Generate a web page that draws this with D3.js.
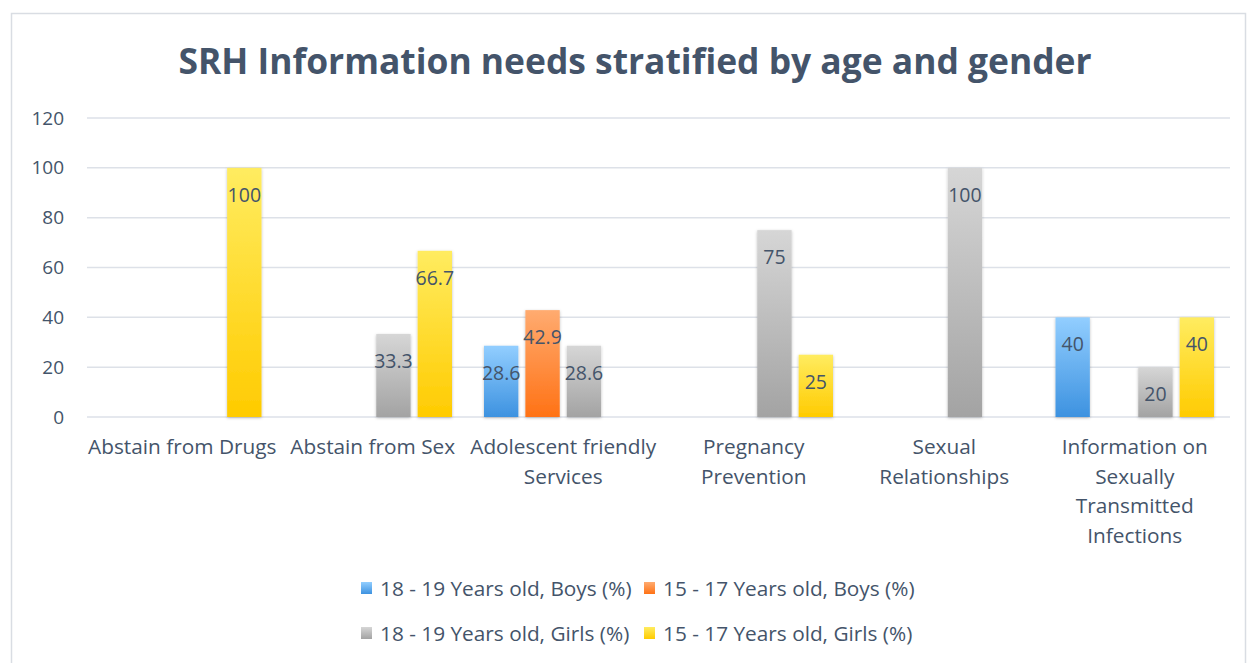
<!DOCTYPE html>
<html>
<head>
<meta charset="utf-8">
<script src="https://cdn.jsdelivr.net/npm/d3@7"></script>
<style>
  body { margin: 0; background: #fff; }
  svg { font-family: "Open Sans", "Noto Sans", sans-serif; }
</style>
</head>
<body>
<svg width="1248" height="663"></svg>
<script>
// Chart data
const categories = [
  ["Abstain from Drugs"],
  ["Abstain from Sex"],
  ["Adolescent friendly", "Services"],
  ["Pregnancy", "Prevention"],
  ["Sexual", "Relationships"],
  ["Information on", "Sexually", "Transmitted", "Infections"]
];
const seriesNames = [
  "18 - 19 Years old, Boys (%)",
  "15 - 17 Years old, Boys (%)",
  "18 - 19 Years old, Girls (%)",
  "15 - 17 Years old, Girls (%)"
];
const boys1819 = [null, null, 28.6, null, null, 40];
const boys1517 = [null, null, 42.9, null, null, null];
const girls1819 = [null, 33.3, 28.6, 75, 100, 20];
const girls1517 = [100, 66.7, null, 25, null, 40];
const yTicks = [0, 20, 40, 60, 80, 100, 120];

const values = [boys1819, boys1517, girls1819, girls1517];
const gradStops = [
  ["#92ceff", "#3d92e0"],
  ["#ffab70", "#ff7215"],
  ["#d6d6d6", "#a3a3a3"],
  ["#ffec60", "#ffcb00"]
];

const textColor = "#44546a";
const margin = {top: 118, left: 87, right: 18, bottom: 246};
const W = 1248, H = 663;
const width = W - margin.left - margin.right;
const height = H - margin.top - margin.bottom;

const svg = d3.select("svg");

// gradients and shadow
const defs = svg.append("defs");
gradStops.forEach((s, i) => {
  const g = defs.append("linearGradient")
    .attr("id", "grad" + i)
    .attr("x1", 0).attr("y1", 0).attr("x2", 0).attr("y2", 1);
  g.append("stop").attr("offset", "0%").attr("stop-color", s[0]);
  g.append("stop").attr("offset", "100%").attr("stop-color", s[1]);
});
const f = defs.append("filter").attr("id", "shadow")
  .attr("x", "-20%").attr("y", "-5%").attr("width", "140%").attr("height", "115%");
f.append("feDropShadow").attr("dx", 0).attr("dy", 1).attr("stdDeviation", 1.6)
  .attr("flood-color", "#000").attr("flood-opacity", 0.25);

// outer border
svg.append("rect")
  .attr("x", 11.5).attr("y", 13.5)
  .attr("width", 1234).attr("height", 660)
  .attr("fill", "none").attr("stroke", "#d9dde3").attr("stroke-width", 1.5);

// title
svg.append("text")
  .attr("x", 635).attr("y", 74)
  .attr("text-anchor", "middle")
  .attr("font-size", "35.4px").attr("font-weight", "bold")
  .attr("fill", textColor)
  .text("SRH Information needs stratified by age and gender");

const g = svg.append("g").attr("transform", `translate(${margin.left},${margin.top})`);

const y = d3.scaleLinear().domain([0, 120]).range([height, 0]);
const x = d3.scaleBand().domain(d3.range(categories.length)).range([0, width]).paddingInner(0).paddingOuter(0);
const xSub = d3.scaleBand().domain(d3.range(4)).range([16, x.bandwidth() - 16]).paddingInner(0.17);

// gridlines
g.selectAll(".grid").data(yTicks).enter().append("line")
  .attr("x1", 0).attr("x2", width)
  .attr("y1", d => y(d)).attr("y2", d => y(d))
  .attr("stroke", "#dde1e8").attr("stroke-width", 1.5);

// y axis labels
const yAxis = g.append("g")
  .call(d3.axisLeft(y).tickValues(yTicks).tickSize(0).tickPadding(23));
yAxis.select(".domain").remove();
yAxis.selectAll("text")
  .attr("font-size", "19px").attr("fill", textColor)
  .attr("font-family", "'Open Sans', sans-serif");

// bars
values.forEach((series, si) => {
  const data = series.map((v, ci) => ({v, ci})).filter(d => d.v !== null);
  g.selectAll(".bar" + si).data(data).enter().append("rect")
    .attr("x", d => x(d.ci) + xSub(si))
    .attr("y", d => y(d.v))
    .attr("width", xSub.bandwidth())
    .attr("height", d => height - y(d.v))
    .attr("fill", `url(#grad${si})`)
    .attr("filter", "url(#shadow)");
  g.selectAll(".label" + si).data(data).enter().append("text")
    .attr("x", d => x(d.ci) + xSub(si) + xSub.bandwidth() / 2)
    .attr("y", d => y(d.v) + 34)
    .attr("text-anchor", "middle")
    .attr("font-size", "19.5px").attr("fill", textColor)
    .text(d => d.v);
});

// category labels
categories.forEach((lines, ci) => {
  const t = g.append("text")
    .attr("x", x(ci) + x.bandwidth() / 2)
    .attr("y", height + 37)
    .attr("text-anchor", "middle")
    .attr("font-size", "20.8px").attr("fill", textColor);
  lines.forEach((l, li) => {
    t.append("tspan").attr("x", x(ci) + x.bandwidth() / 2)
      .attr("dy", li === 0 ? 0 : 29.5).text(l);
  });
});

// legend
const legendPos = [[361, 588], [644, 588], [361, 633], [644, 633]];
seriesNames.forEach((name, i) => {
  const lg = svg.append("g").attr("transform", `translate(${legendPos[i][0]},${legendPos[i][1]})`);
  lg.append("rect").attr("x", 0).attr("y", -6).attr("width", 11).attr("height", 12)
    .attr("fill", `url(#grad${i})`);
  lg.append("text").attr("x", 19).attr("y", 7.5)
    .attr("font-size", "20.8px").attr("fill", textColor)
    .text(name);
});
</script>
</body>
</html>
